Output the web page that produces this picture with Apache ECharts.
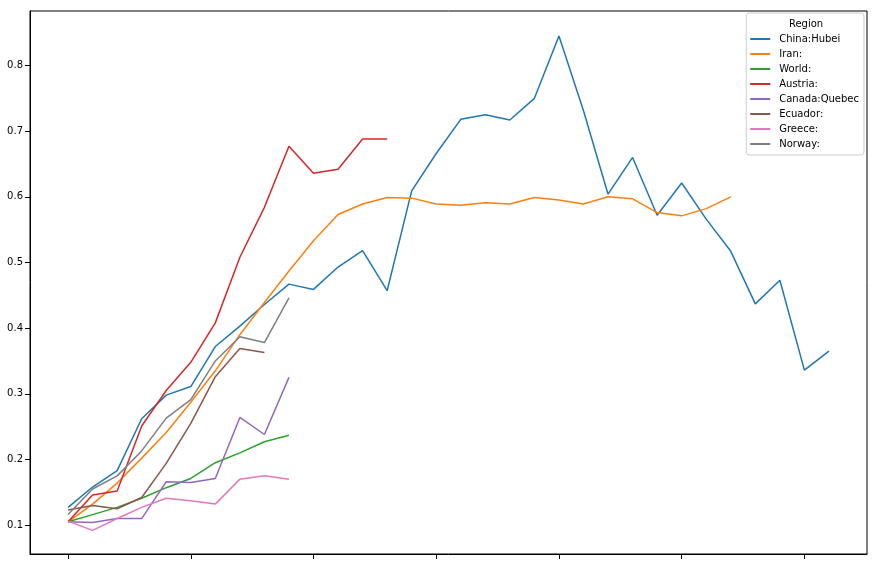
<!DOCTYPE html>
<html>
<head>
<meta charset="utf-8">
<script src="https://cdn.jsdelivr.net/npm/echarts@6/dist/echarts.min.js"></script>
<style>
html,body{margin:0;padding:0;background:#fff;}
#chart{width:877px;height:565px;}
</style>
</head>
<body>
<div id="chart"></div>
<script>
const seriesNames = ['China:Hubei', 'Iran:', 'World:', 'Austria:', 'Canada:Quebec', 'Ecuador:', 'Greece:', 'Norway:'];
const hubei = [0.127, 0.158, 0.183, 0.262, 0.298, 0.311, 0.372, 0.403, 0.436, 0.467, 0.459, 0.493, 0.518, 0.457, 0.609, 0.666, 0.718, 0.725, 0.717, 0.750, 0.845, 0.731, 0.604, 0.660, 0.572, 0.621, 0.566, 0.517, 0.437, 0.473, 0.336, 0.365];
const iran = [0.105, 0.132, 0.164, 0.202, 0.241, 0.287, 0.335, 0.390, 0.439, 0.487, 0.533, 0.573, 0.589, 0.599, 0.598, 0.589, 0.587, 0.591, 0.589, 0.599, 0.595, 0.589, 0.600, 0.597, 0.576, 0.571, 0.582, 0.600];
const world = [0.105, 0.116, 0.127, 0.141, 0.157, 0.171, 0.195, 0.210, 0.227, 0.237];
const austria = [0.105, 0.146, 0.152, 0.251, 0.305, 0.348, 0.408, 0.508, 0.584, 0.677, 0.636, 0.642, 0.688, 0.688];
const quebec = [0.105, 0.104, 0.110, 0.110, 0.166, 0.165, 0.171, 0.264, 0.238, 0.325];
const ecuador = [0.123, 0.130, 0.125, 0.142, 0.194, 0.255, 0.326, 0.369, 0.363];
const greece = [0.106, 0.092, 0.110, 0.127, 0.141, 0.137, 0.132, 0.170, 0.175, 0.170];
const norway = [0.116, 0.155, 0.175, 0.213, 0.263, 0.291, 0.350, 0.387, 0.378, 0.446];
const xTicks = [0, 5, 10, 15, 20, 25, 30];
const yTicks = [0.1, 0.2, 0.3, 0.4, 0.5, 0.6, 0.7, 0.8];
const colors = ['#1f77b4', '#ff7f0e', '#2ca02c', '#d62728', '#9467bd', '#8c564b', '#e377c2', '#7f7f7f'];

const allValues = [hubei, iran, world, austria, quebec, ecuador, greece, norway];

const chart = echarts.init(document.getElementById('chart'), null, {renderer: 'canvas'});
const font = 'DejaVu Sans';
chart.setOption({
  animation: false,
  color: colors,
  textStyle: {fontFamily: font},
  grid: {left: 30, right: 10, top: 11, bottom: 11, show: true, borderColor: '#000', borderWidth: 1, backgroundColor: 'transparent'},
  xAxis: {
    type: 'value', min: -1.55, max: 32.55,
    axisLine: {show: true, onZero: false, lineStyle: {color: '#000', width: 1}},
    axisTick: {show: true, inside: false, length: 5, lineStyle: {color: '#000'}, customValues: xTicks},
    axisLabel: {show: false},
    splitLine: {show: false}
  },
  yAxis: {
    type: 'value', min: 0.056, max: 0.883,
    axisLine: {show: true, onZero: false, lineStyle: {color: '#000', width: 1}},
    axisTick: {show: true, inside: false, length: 5, lineStyle: {color: '#000'}, customValues: yTicks},
    axisLabel: {show: true, margin: 7, color: '#000', fontSize: 10, fontFamily: font, customValues: yTicks,
      formatter: v => v.toFixed(1)},
    splitLine: {show: false}
  },
  legend: {
    orient: 'vertical', right: 13, top: 13,
    padding: [20, 5, 5, 4],
    itemGap: 3, itemWidth: 20, itemHeight: 2, icon: 'rect',
    backgroundColor: 'rgba(255,255,255,0.8)', borderColor: '#cccccc', borderWidth: 1, borderRadius: 3,
    textStyle: {fontFamily: font, fontSize: 10, color: '#000', lineHeight: 12, padding: [0, 0, 0, 4]},
    data: seriesNames
  },
  graphic: [{
    type: 'text', x: 806, y: 19, z: 100,
    style: {text: 'Region', fontFamily: font, fontSize: 10, fill: '#000', textAlign: 'center', textVerticalAlign: 'top'}
  }],
  series: seriesNames.map((name, k) => ({
    name: name, type: 'line', symbol: 'none', showSymbol: false,
    lineStyle: {width: 1.5, color: colors[k]},
    itemStyle: {color: colors[k]},
    data: allValues[k].map((v, i) => [i, v])
  }))
});
</script>
</body>
</html>
